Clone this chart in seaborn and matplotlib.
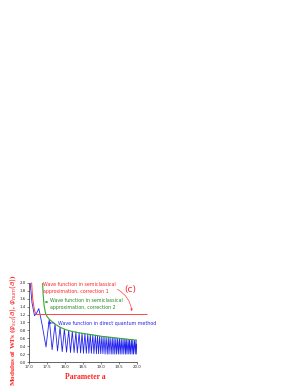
import matplotlib
matplotlib.use("Agg")
import matplotlib.pyplot as plt
import seaborn as sns
import pandas as pd

# ---- data ----
red_x = [17.07, 17.10, 17.15, 17.20, 20.28]
red_y = [2.00, 1.60, 1.30, 1.20, 1.20]

green_x = [17.37, 17.39, 17.42, 17.46, 17.50, 17.56, 17.65, 17.75, 17.86, 18.00,
           18.20, 18.50, 18.80, 19.00, 19.30, 19.50, 19.80, 20.00]
green_y = [2.10, 1.70, 1.40, 1.22, 1.15, 1.08, 1.01, 0.94, 0.88, 0.82,
           0.77, 0.72, 0.68, 0.65, 0.62, 0.60, 0.57, 0.55]

blue_head_x = [17.02, 17.08, 17.15, 17.20, 17.27, 17.36]
blue_head_y = [2.10, 1.50, 1.17, 1.22, 1.35, 0.95]
blue_min_x = [17.47, 17.64, 17.79, 17.92, 18.04, 18.15, 18.25, 18.34, 18.43, 18.51,
              18.59, 18.66, 18.73, 18.80, 18.87, 18.93, 18.99, 19.05, 19.11, 19.17,
              19.22, 19.28, 19.33, 19.38, 19.43, 19.48, 19.53, 19.58, 19.63, 19.68,
              19.72, 19.77, 19.81, 19.86, 19.90, 19.95, 19.99]
blue_min_y = [0.38, 0.31, 0.28, 0.26, 0.25, 0.24, 0.24, 0.23, 0.23, 0.22,
              0.22, 0.22, 0.22, 0.21, 0.21, 0.21, 0.21, 0.21, 0.20, 0.20,
              0.20, 0.20, 0.20, 0.20, 0.20, 0.20, 0.20, 0.20, 0.20, 0.20,
              0.20, 0.20, 0.20, 0.20, 0.20, 0.20, 0.20]
blue_max_x = [17.56, 17.72, 17.86, 17.98, 18.10, 18.20, 18.30, 18.39, 18.47, 18.55,
              18.63, 18.70, 18.77, 18.84, 18.90, 18.96, 19.02, 19.08, 19.14, 19.20,
              19.25, 19.31, 19.36, 19.41, 19.46, 19.51, 19.56, 19.61, 19.66, 19.70,
              19.75, 19.79, 19.84, 19.88, 19.93, 19.97]
blue_max_y = [1.08, 0.96, 0.88, 0.83, 0.80, 0.78, 0.76, 0.74, 0.73, 0.72,
              0.71, 0.70, 0.69, 0.68, 0.67, 0.66, 0.65, 0.645, 0.64, 0.63,
              0.625, 0.62, 0.61, 0.605, 0.60, 0.595, 0.59, 0.585, 0.58, 0.575,
              0.57, 0.565, 0.56, 0.555, 0.55, 0.55]
blue_tail_x = [20.00]
blue_tail_y = [0.45]

x_ticks = [17.0, 17.5, 18.0, 18.5, 19.0, 19.5, 20.0]
y_ticks = [0.0, 0.2, 0.4, 0.6, 0.8, 1.0, 1.2, 1.4, 1.6, 1.8, 2.0]

# assemble blue series (alternating minima / maxima)
bx, by = list(blue_head_x), list(blue_head_y)
for i in range(len(blue_min_x)):
    bx.append(blue_min_x[i]); by.append(blue_min_y[i])
    if i < len(blue_max_x):
        bx.append(blue_max_x[i]); by.append(blue_max_y[i])
bx += blue_tail_x; by += blue_tail_y

sns.set_style("ticks")
fig = plt.figure(figsize=(3.0, 3.88), dpi=100)
ax = fig.add_axes([0.097, 0.067, 0.36, 0.204])

blue_df = pd.DataFrame({"x": bx, "y": by})
green_df = pd.DataFrame({"x": green_x, "y": green_y})
red_df = pd.DataFrame({"x": red_x, "y": red_y})

sns.lineplot(data=blue_df, x="x", y="y", sort=False, estimator=None, ax=ax,
             color="#2222ee", lw=0.6)
sns.lineplot(data=green_df, x="x", y="y", sort=False, estimator=None, ax=ax,
             color="#33aa33", lw=0.8)
sns.lineplot(data=red_df, x="x", y="y", sort=False, estimator=None, ax=ax,
             color="#ff4444", lw=0.7)
# red line extends beyond the axes on the right
for ln in ax.lines:
    if ln.get_color() == "#ff4444":
        ln.set_clip_on(False)

ax.set_xlim(17.0, 20.0)
ax.set_ylim(0.0, 2.0)
ax.set_xticks(x_ticks)
ax.set_yticks(y_ticks)
ax.set_xticklabels([f"{v:.1f}" for v in x_ticks], fontsize=2.8)
ax.set_yticklabels([f"{v:.1f}" for v in y_ticks], fontsize=2.8)
ax.tick_params(length=1.5, width=0.4, pad=1)
for s in ["left", "bottom"]:
    ax.spines[s].set_linewidth(0.5)
sns.despine(ax=ax)
ax.set_xlabel("")
ax.set_ylabel("")

fig.text(0.283, 0.028, "Parameter a", color="#ff2222", fontsize=5.5,
         fontweight="bold", family="Liberation Serif", ha="center", va="center")
fig.text(0.043, 0.149, r"Modulus of WFs ($\varphi_{scl}(a)$, $\varphi_{num}(a)$)",
         color="#ff2222", fontsize=5.2, fontweight="bold", family="Liberation Serif",
         rotation=90, ha="center", va="center")

fig.text(0.143, 0.258, "Wave function in semiclassical\napproximation, correction 1",
         color="#ff2222", fontsize=3.4, ha="left", va="center", linespacing=1.6)
fig.text(0.435, 0.2526, "(c)", color="#ff2222", fontsize=6.5, ha="center", va="center")
fig.text(0.167, 0.2165, "Wave function in semiclassical\napproximation, correction 2",
         color="#228822", fontsize=3.4, ha="left", va="center", linespacing=1.6)
fig.text(0.193, 0.1675, "Wave function in direct quantum method",
         color="#2222ee", fontsize=3.4, ha="left", va="center")

# arrows (figure fraction coordinates)
def fp(x, y):
    return (x / 300.0, 1 - y / 388.0)

ax.annotate("", xy=fp(132, 314), xycoords="figure fraction",
            xytext=fp(115, 288), textcoords="figure fraction",
            arrowprops=dict(arrowstyle="-|>", color="#ff4444", lw=0.5,
                            mutation_scale=3, connectionstyle="arc3,rad=-0.3"))
ax.annotate("", xy=fp(42, 302), xycoords="figure fraction",
            xytext=fp(49, 302), textcoords="figure fraction",
            arrowprops=dict(arrowstyle="-|>", color="#33aa33", lw=0.5, mutation_scale=3))
ax.annotate("", xy=fp(45, 323), xycoords="figure fraction",
            xytext=fp(57, 323), textcoords="figure fraction",
            arrowprops=dict(arrowstyle="-|>", color="#2222ee", lw=0.5, mutation_scale=3))

fig.savefig("out.png", dpi=100)
